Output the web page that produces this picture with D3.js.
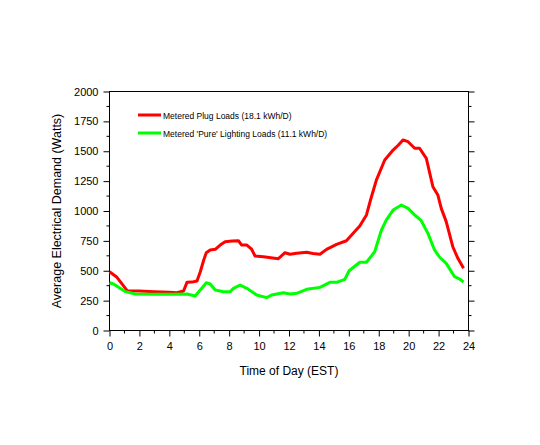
<!DOCTYPE html>
<html><head><meta charset="utf-8">
<script src="https://cdn.jsdelivr.net/npm/d3@7/dist/d3.min.js"></script>
<style>body{margin:0;background:#fff;} text{font-family:Arial,"Liberation Sans",sans-serif;}</style>
</head><body>
<svg id="c" width="540" height="445"></svg>
<script>
const seriesNames = ["Metered Plug Loads (18.1 kWh/D)", "Metered 'Pure' Lighting Loads (11.1 kWh/D)"];
const seriesColors = ["#ff0000", "#00ff00"];
const plugHours = [0,0.5,1.18,2,3,4,4.5,4.95,5.18,5.5,5.85,6.07,6.3,6.47,6.73,7.07,7.4,7.73,8.2,8.62,8.84,9.18,9.5,9.73,10.29,11.29,11.73,12.07,12.51,13.18,13.6,14.07,14.51,15.18,15.84,16.29,16.73,17.18,17.45,17.84,18.4,18.96,19.3,19.62,19.96,20.4,20.73,21.18,21.62,21.95,22.18,22.51,22.95,23.29,23.67];
const plugValues = [492,445,333,330,325,320,316,330,403,405,414,492,590,651,674,679,715,743,748,751,715,715,680,623,618,601,651,638,646,654,645,638,679,721,751,813,874,967,1092,1259,1427,1510,1550,1594,1580,1525,1525,1441,1203,1134,1022,911,701,604,520];
const lightHours = [0,0.27,1.07,1.73,3,4.18,5.18,5.73,6.07,6.47,6.73,7.07,7.62,8.07,8.29,8.73,9.18,9.84,10.51,10.84,11.62,12.07,12.51,13.18,14.07,14.73,15.18,15.73,16.02,16.73,17.18,17.73,18.18,18.51,18.96,19.51,19.96,20.4,20.84,21.29,21.73,22.07,22.51,23.07,23.4,23.67];
const lightValues = [400,389,325,305,303,303,305,289,339,400,389,339,325,325,353,381,353,297,275,297,316,305,311,345,361,403,403,428,500,571,571,659,841,925,1008,1050,1022,967,919,813,674,613,562,450,431,406];
const xTicks = [0,2,4,6,8,10,12,14,16,18,20,22,24];
const yTicks = [0,250,500,750,1000,1250,1500,1750,2000];
const xTitle = "Time of Day (EST)";
const yTitle = "Average Electrical Demand (Watts)";

const svg = d3.select("#c");
const L = 109.5, R = 468.5, T = 91.5, B = 330.5;
const x = d3.scaleLinear().domain([0,24]).range([L,R]);
const y = d3.scaleLinear().domain([0,2000]).range([B,T]);

svg.append("rect").attr("x",L).attr("y",T).attr("width",R-L).attr("height",B-T)
  .attr("fill","none").attr("stroke","#000").attr("stroke-width",1);

const gl = svg.append("g").attr("transform",`translate(${L},0)`)
  .call(d3.axisLeft(y).tickValues(yTicks).tickSize(6).tickPadding(5).tickFormat(d3.format("d")));
gl.selectAll(".domain").remove();
gl.append("g").selectAll("line").data(d3.range(125,2000,250)).join("line")
  .attr("x1",-3).attr("x2",0).attr("y1",d=>y(d)).attr("y2",d=>y(d)).attr("stroke","#000");
const gr = svg.append("g").attr("transform",`translate(${R},0)`)
  .call(d3.axisRight(y).tickValues(yTicks).tickSize(6).tickFormat(""));
gr.selectAll(".domain").remove();
gr.append("g").selectAll("line").data(d3.range(125,2000,250)).join("line")
  .attr("x1",0).attr("x2",3).attr("y1",d=>y(d)).attr("y2",d=>y(d)).attr("stroke","#000");
const gb = svg.append("g").attr("transform",`translate(0,${B})`)
  .call(d3.axisBottom(x).tickValues(xTicks).tickSize(6).tickPadding(6).tickFormat(d3.format("d")));
gb.selectAll(".domain").remove();
gb.append("g").selectAll("line").data(d3.range(1,24,2)).join("line")
  .attr("x1",d=>x(d)).attr("x2",d=>x(d)).attr("y1",0).attr("y2",3).attr("stroke","#000");
svg.selectAll(".tick text").attr("font-size","11px").attr("font-family","Arial, 'Liberation Sans', sans-serif").attr("fill","#000");
svg.selectAll(".tick line").attr("stroke","#000");

const line = d3.line().x(d=>x(d[0])).y(d=>y(d[1]));
const plug = plugHours.map((h,i)=>[h,plugValues[i]]);
const light = lightHours.map((h,i)=>[h,lightValues[i]]);
[plug, light].forEach((data,i)=>{
  svg.append("path").datum(data).attr("d",line).attr("fill","none")
    .attr("stroke",seriesColors[i]).attr("stroke-width",3).attr("stroke-linejoin","round");
});

svg.append("text").attr("x",(L+R)/2).attr("y",375).attr("text-anchor","middle")
  .attr("font-size","12px").text(xTitle);
svg.append("text").attr("transform",`translate(61,${(T+B)/2}) rotate(-90)`).attr("text-anchor","middle")
  .attr("font-size","12.5px").text(yTitle);

seriesNames.forEach((n,i)=>{
  const yy = 115 + i*18;
  svg.append("line").attr("x1",138).attr("x2",161).attr("y1",yy).attr("y2",yy)
    .attr("stroke",seriesColors[i]).attr("stroke-width",3);
  svg.append("text").attr("x",163).attr("y",yy+3.5).attr("font-size","8.5px").text(n);
});
</script>
</body></html>
